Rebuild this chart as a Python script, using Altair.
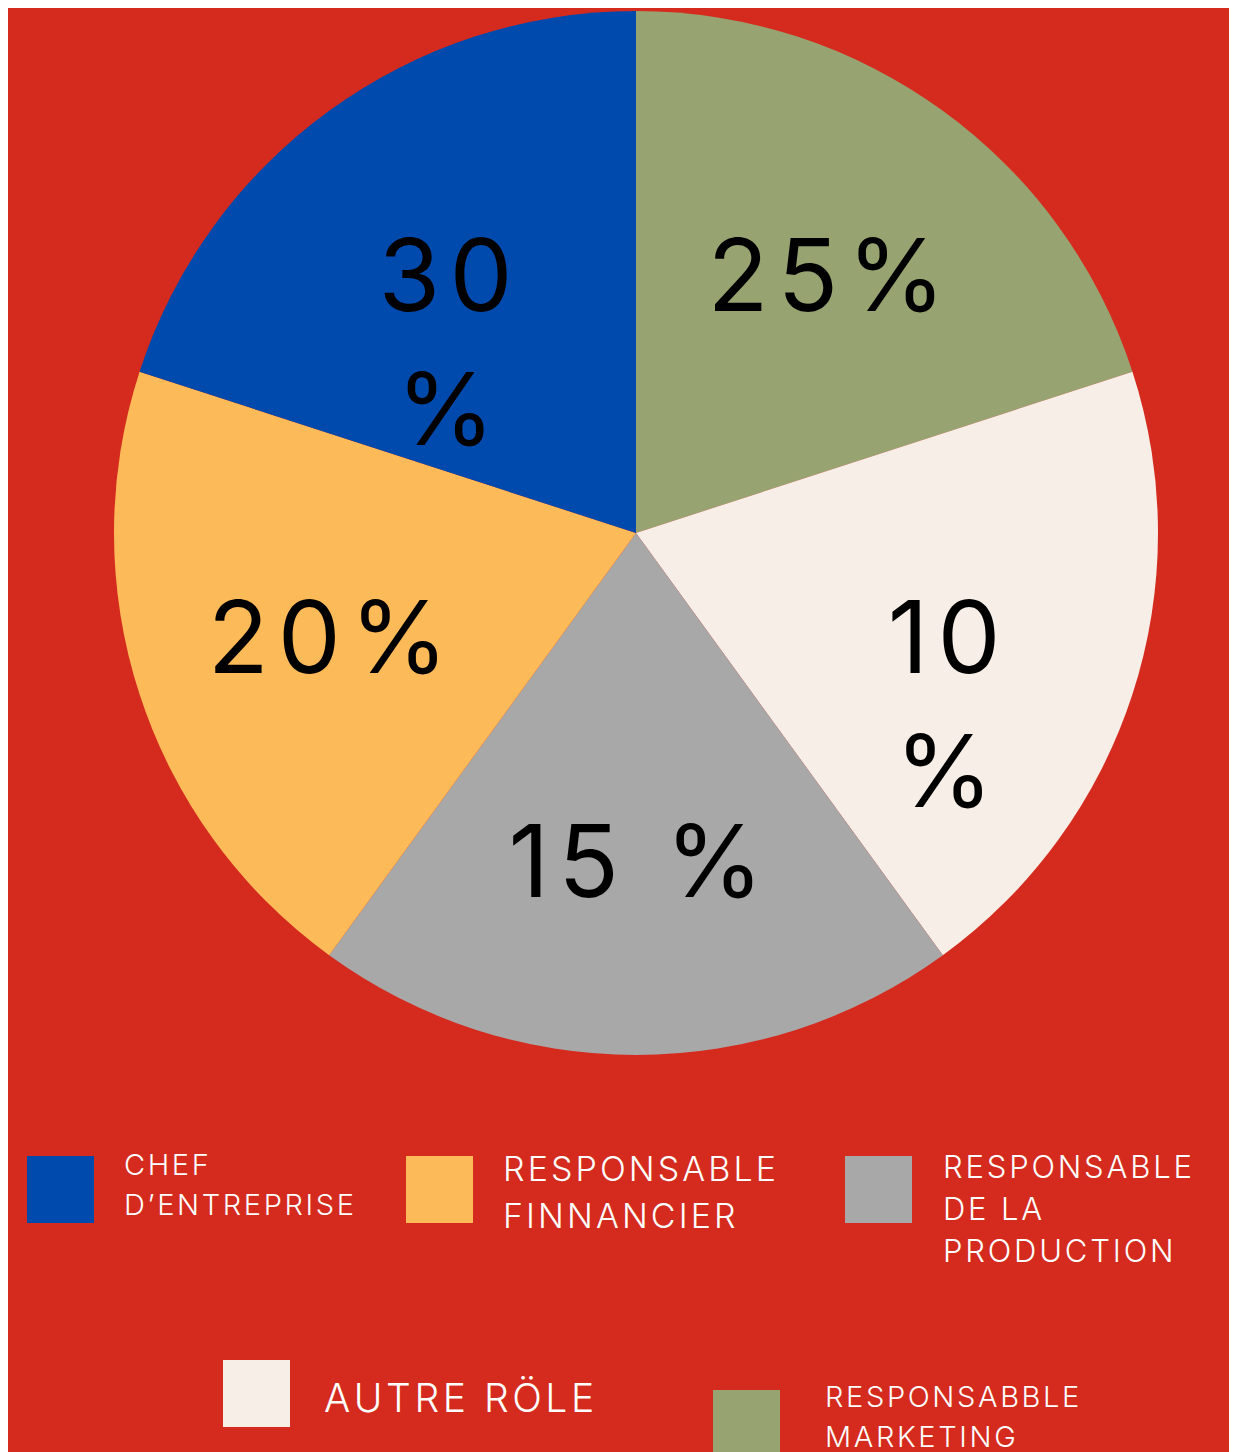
import altair as alt
import pandas as pd

# ---- data ----
roles = [
    "RESPONSABBLE MARKETING",
    "AUTRE RÖLE",
    "RESPONSABLE DE LA PRODUCTION",
    "RESPONSABLE FINNANCIER",
    "CHEF D’ENTREPRISE",
]
slice_sizes = [1, 1, 1, 1, 1]  # slices are drawn equal in the reference
pct_labels = ["25%", "10\n%", "15 %", "20%", "30\n%"]
legend_text = [
    "RESPONSABBLE\nMARKETING",
    "AUTRE RÖLE",
    "RESPONSABLE\nDE LA\nPRODUCTION",
    "RESPONSABLE\nFINNANCIER",
    "CHEF\nD’ENTREPRISE",
]
colors = ["#97A370", "#F6EEE7", "#A8A8A8", "#FDBA58", "#004AAD"]

# ---- layout / style ----
BG = "#D42B1E"
W, H = 1221, 1444
CX, CY, R = 628, 525, 522
sq_x = [705, 215, 837, 398, 19]
sq_y = [1382, 1352, 1148, 1148, 1148]
SQ = 67
tx_x = [817, 316, 935, 495, 116]
tx_y = [1399, 1404, 1170, 1173, 1167]
tx_size = [29, 39, 31, 34, 29]
tx_lh = [40, 40, 42, 47, 40]


def tracked(s, sep="\u200a"):
    return "\n".join(sep.join(line) for line in s.split("\n"))


pie_df = pd.DataFrame({
    "role": roles,
    "size": slice_sizes,
    "label": [tracked(s) for s in pct_labels],
    "order": list(range(len(roles))),
})

color_scale = alt.Scale(domain=roles, range=colors)

base = alt.Chart(pie_df).encode(
    theta=alt.Theta("size:Q", stack=True),
    order=alt.Order("order:Q"),
    x=alt.value(CX),
    y=alt.value(CY),
)

arcs = base.mark_arc(radius=R).encode(
    color=alt.Color("role:N", scale=color_scale, legend=None)
)

labels = base.mark_text(
    radius=324, fontSize=100, font="Inter", baseline="alphabetic",
    align="center", dy=40, lineHeight=134, lineBreak="\n", color="black",
).encode(text="label:N")

leg_df = pd.DataFrame({
    "role": roles,
    "text": [tracked(s) for s in legend_text],
    "x": sq_x, "y": sq_y,
    "x2": [v + SQ for v in sq_x], "y2": [v + SQ for v in sq_y],
    "tx": tx_x, "ty": tx_y,
})

squares = alt.Chart(leg_df).mark_rect().encode(
    x=alt.X("x:Q", scale=None, axis=None),
    x2="x2:Q",
    y=alt.Y("y:Q", scale=None, axis=None),
    y2="y2:Q",
    color=alt.Color("role:N", scale=color_scale, legend=None),
)

texts = []
for i, role in enumerate(roles):
    t = alt.Chart(leg_df).transform_filter(
        alt.datum.role == role
    ).mark_text(
        font="Inter", fontWeight=300, fontSize=tx_size[i], lineHeight=tx_lh[i],
        align="left", baseline="alphabetic", lineBreak="\n", color="white",
    ).encode(
        x=alt.X("tx:Q", scale=None, axis=None),
        y=alt.Y("ty:Q", scale=None, axis=None),
        text="text:N",
    )
    texts.append(t)

chart = alt.layer(arcs, labels, squares, *texts).properties(
    width=W, height=H, background=BG, padding=0, autosize="none",
).configure_view(strokeWidth=0)

chart.save("out.html", embed_options={"renderer": "svg", "actions": False})
